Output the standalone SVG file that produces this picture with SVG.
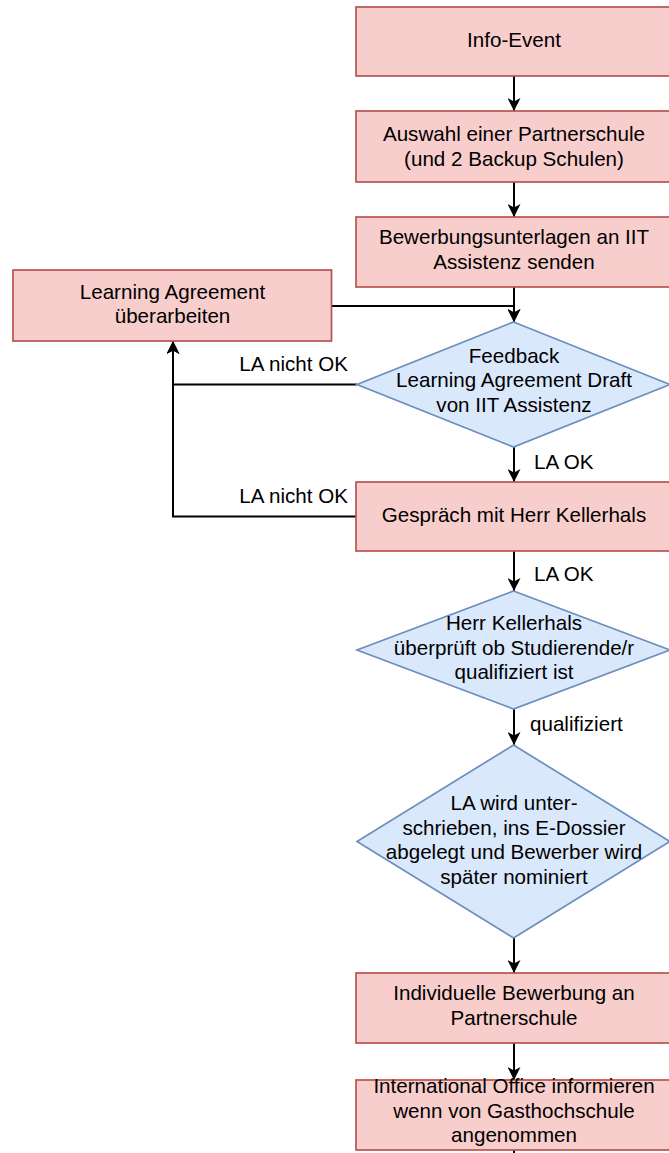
<svg xmlns="http://www.w3.org/2000/svg" width="669" height="1153" viewBox="0 0 669 1153">
<style>
.box{fill:#f8cecc;stroke:#b85450;stroke-width:1.7}
.dia{fill:#dae8fc;stroke:#6c8ebf;stroke-width:1.7}
.t{font-family:"Liberation Sans",Arial,Helvetica,sans-serif;font-size:20.6px;fill:#000;text-anchor:middle}
.l{font-family:"Liberation Sans",Arial,Helvetica,sans-serif;font-size:20.6px;fill:#000}
.e{fill:none;stroke:#000;stroke-width:2;marker-end:url(#arr)}
</style>
<defs>
<marker id="arr" viewBox="0 0 13 13" refX="13" refY="6.5" markerWidth="13" markerHeight="13" markerUnits="userSpaceOnUse" orient="auto">
<path d="M0,0 L13,6.5 L0,13 L3.5,6.5 z" fill="#000"/>
</marker>
</defs>
<rect width="669" height="1153" fill="#fff"/>
<g id="connectors">
<path class="e" d="M514 76 V111"/>
<path class="e" d="M514 182 V217"/>
<path class="e" d="M514 287 V322"/>
<path class="e" d="M331.5 306 H514 V322"/>
<path class="e" d="M357 384.5 H173 V341"/>
<path class="e" d="M514 447 V482"/>
<path class="e" d="M356 516.5 H173 V341"/>
<path class="e" d="M514 551 V591"/>
<path class="e" d="M514 709 V745"/>
<path class="e" d="M514 938 V973"/>
<path class="e" d="M514 1043 V1080"/>
<path d="M514 1150 V1153" fill="none" stroke="#000" stroke-width="2"/>
<text class="l" x="348" y="371" text-anchor="end">LA nicht OK</text>
<text class="l" x="348" y="502.5" text-anchor="end">LA nicht OK</text>
<text class="l" x="534" y="468.5">LA OK</text>
<text class="l" x="534" y="580.5">LA OK</text>
<text class="l" x="530" y="731">qualifiziert</text>
</g>
<g id="n1"><rect class="box" x="356" y="7" width="316" height="69"/><text class="t" x="514" y="47.4">Info-Event</text></g>
<g id="n2"><rect class="box" x="356" y="111" width="316" height="71"/><text class="t" x="514" y="141"><tspan x="514">Auswahl einer Partnerschule</tspan><tspan x="514" dy="24.5">(und 2 Backup Schulen)</tspan></text></g>
<g id="n3"><rect class="box" x="356" y="217" width="316" height="70"/><text class="t" x="514" y="244.4"><tspan x="514">Bewerbungsunterlagen an IIT</tspan><tspan x="514" dy="24.5">Assistenz senden</tspan></text></g>
<g id="n4"><rect class="box" x="13" y="270" width="318.5" height="71"/><text class="t" x="172.5" y="298.5"><tspan x="172.5">Learning Agreement</tspan><tspan x="172.5" dy="24.5">überarbeiten</tspan></text></g>
<g id="n5"><polygon class="dia" points="513.5,322 670,384.5 513.5,447 357,384.5"/><text class="t" x="514" y="362.7"><tspan x="514">Feedback</tspan><tspan x="514" dy="24.5">Learning Agreement Draft</tspan><tspan x="514" dy="24.5">von IIT Assistenz</tspan></text></g>
<g id="n6"><rect class="box" x="356" y="482" width="316" height="69"/><text class="t" x="514" y="521.7">Gespräch mit Herr Kellerhals</text></g>
<g id="n7"><polygon class="dia" points="513.5,591 670,650 513.5,709 357,650"/><text class="t" x="514" y="630"><tspan x="514">Herr Kellerhals</tspan><tspan x="514" dy="24.5">überprüft ob Studierende/r</tspan><tspan x="514" dy="24.5">qualifiziert ist</tspan></text></g>
<g id="n8"><polygon class="dia" points="513.5,745 670,841.5 513.5,938 357,841.5"/><text class="t" x="514" y="810"><tspan x="514">LA wird unter-</tspan><tspan x="514" dy="24.5">schrieben, ins E-Dossier</tspan><tspan x="514" dy="24.5">abgelegt und Bewerber wird</tspan><tspan x="514" dy="24.5">später nominiert</tspan></text></g>
<g id="n9"><rect class="box" x="356" y="973" width="316" height="70"/><text class="t" x="514" y="1000"><tspan x="514">Individuelle Bewerbung an</tspan><tspan x="514" dy="24.5">Partnerschule</tspan></text></g>
<g id="n10"><rect class="box" x="356" y="1080" width="316" height="70"/><text class="t" x="514" y="1093.3"><tspan x="514">International Office informieren</tspan><tspan x="514" dy="24.5">wenn von Gasthochschule</tspan><tspan x="514" dy="24.5">angenommen</tspan></text></g>
</svg>
